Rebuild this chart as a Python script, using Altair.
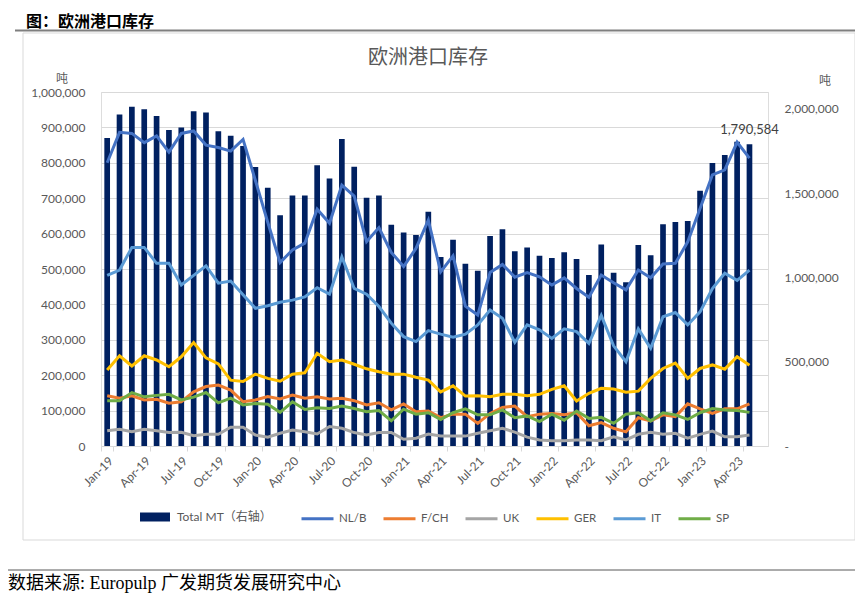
import altair as alt
import pandas as pd

months = ["Jan-19","Feb-19","Mar-19","Apr-19","May-19","Jun-19","Jul-19","Aug-19","Sep-19","Oct-19","Nov-19","Dec-19",
          "Jan-20","Feb-20","Mar-20","Apr-20","May-20","Jun-20","Jul-20","Aug-20","Sep-20","Oct-20","Nov-20","Dec-20",
          "Jan-21","Feb-21","Mar-21","Apr-21","May-21","Jun-21","Jul-21","Aug-21","Sep-21","Oct-21","Nov-21","Dec-21",
          "Jan-22","Feb-22","Mar-22","Apr-22","May-22","Jun-22","Jul-22","Aug-22","Sep-22","Oct-22","Nov-22","Dec-22",
          "Jan-23","Feb-23","Mar-23","Apr-23","May-23"]
axis_months = months + ["Jun-23"]

total = [1827000,1966000,2012000,1998000,1958000,1875000,1889000,1986000,1978000,1867000,1841000,1780000,
         1655000,1532000,1369000,1486000,1486000,1665000,1587000,1821000,1657000,1472000,1486000,1313000,
         1266000,1252000,1389000,1121000,1224000,1081000,1040000,1246000,1286000,1155000,1177000,1129000,
         1115000,1149000,1109000,1014000,1196000,1028000,972000,1192000,1131000,1315000,1329000,1335000,
         1514000,1679000,1726000,1805000,1790584]

nlb = [800,886,883,857,876,830,883,890,850,843,833,866,750,632,518,554,573,669,629,737,706,577,617,547,
       507,558,638,492,537,395,370,490,513,477,490,478,455,475,445,420,483,461,441,497,475,514,516,577,
       671,766,780,858,813]
fch = [142,135,142,130,132,121,125,153,168,172,158,125,130,140,133,144,135,139,133,135,128,116,122,102,
       119,97,99,80,90,90,64,92,109,113,83,90,92,88,94,57,66,50,40,80,71,88,83,119,105,92,105,105,119]
uk = [43,47,40,47,43,38,39,29,33,33,53,53,31,25,36,45,40,34,55,50,38,31,38,38,19,22,34,28,28,28,36,43,
      50,39,25,17,15,15,17,17,15,26,17,33,39,33,36,22,33,42,26,26,31]
ger = [215,255,226,255,243,224,252,292,249,232,186,182,203,191,183,203,207,262,238,243,231,218,210,203,
       203,194,186,153,170,141,142,139,146,146,142,146,160,170,127,149,163,161,152,155,191,219,234,191,
       219,229,217,252,228]
it_ = [482,497,561,561,516,516,455,482,509,460,466,427,389,396,406,412,421,447,429,534,445,429,394,347,
       309,295,326,316,307,316,342,384,361,293,342,328,304,331,323,290,369,283,238,331,276,365,377,342,
       379,445,488,468,497]
sp = [128,128,151,139,143,146,130,138,151,122,135,116,120,118,95,125,103,108,106,113,106,97,100,71,
      104,90,94,75,94,105,88,88,102,80,85,69,90,73,99,78,81,64,90,94,71,94,88,75,94,106,102,100,95]

series_names = ["NL/B", "F/CH", "UK", "GER", "IT", "SP"]
series_values = [nlb, fch, uk, ger, it_, sp]
series_colors = ["#4472C4", "#ED7D31", "#A5A5A5", "#FFC000", "#5B9BD5", "#70AD47"]
bar_name = "Total MT（右轴）"
bar_color = "#002060"

left_ticks = [0, 100000, 200000, 300000, 400000, 500000, 600000, 700000, 800000, 900000, 1000000]
right_ticks = [0, 500000, 1000000, 1500000, 2000000]
label_months = months[::3]

FONT = "Lato, Noto Sans CJK SC"
GREY = "#595959"

df_bar = pd.DataFrame({"month": months, "total": total, "name": bar_name})
rows = []
for name, vals in zip(series_names, series_values):
    for m, v in zip(months, vals):
        rows.append({"month": m, "series": name, "value": v * 1000})
df_lines = pd.DataFrame(rows)
df_one = pd.DataFrame({"k": [0]})

x_enc = alt.X(
    "month:N",
    sort=axis_months,
    scale=alt.Scale(domain=axis_months, paddingInner=0, paddingOuter=0),
    axis=alt.Axis(values=label_months, labelAngle=-45, labelColor=GREY, labelFont=FONT,
                  labelFontSize=12, tickBand="extent", domainColor="#D9D9D9", tickColor="#D9D9D9",
                  tickSize=5, grid=False, title=None, labelPadding=4),
)

bars = alt.Chart(df_bar).mark_bar(width={"band": 0.46}).encode(
    x=x_enc,
    y=alt.Y("total:Q", scale=alt.Scale(domain=[0, 2100000], nice=False),
            axis=alt.Axis(orient="right", values=right_ticks,
                          labelExpr="datum.value == 0 ? '-' : format(datum.value, ',')",
                          grid=False, domain=False, ticks=False, labelPadding=16,
                          labelColor=GREY, labelFont=FONT, labelFontSize=12, title=None)),
    fill=alt.Fill("name:N", scale=alt.Scale(domain=[bar_name], range=[bar_color]),
                  legend=alt.Legend(orient="none", legendX=38, legendY=409, direction="horizontal",
                                    symbolType="M-1,-0.3H1V0.3H-1Z", symbolSize=900, title=None,
                                    labelFont=FONT, labelFontSize=12, labelColor=GREY, padding=0,
                                    labelOffset=6)),
)

bar_label = alt.Chart(df_bar.tail(1)).mark_text(dy=-14, fontSize=13, font=FONT, color="#404040").encode(
    x=x_enc,
    y=alt.Y("total:Q", scale=alt.Scale(domain=[0, 2100000], nice=False), axis=None),
    text=alt.Text("total:Q", format=","),
)

lines = alt.Chart(df_lines).mark_line(strokeWidth=3).encode(
    x=x_enc,
    y=alt.Y("value:Q", scale=alt.Scale(domain=[0, 1000000], nice=False),
            axis=alt.Axis(orient="left", values=left_ticks,
                          labelExpr="format(datum.value, ',')", grid=True, gridColor="#D9D9D9",
                          domain=False, ticks=False, labelPadding=16, labelColor=GREY, labelFont=FONT,
                          labelFontSize=12, title=None)),
    stroke=alt.Stroke("series:N", sort=series_names,
                      scale=alt.Scale(domain=series_names, range=series_colors),
                      legend=alt.Legend(orient="none", legendX=199, legendY=409, direction="horizontal",
                                        symbolType="stroke", symbolSize=1024, symbolStrokeWidth=3,
                                        title=None, labelFont=FONT, labelFontSize=11.5, labelColor=GREY,
                                        columnPadding=10, labelOffset=4, padding=0)),
)

def txt(s, x, y, size, color, weight="normal", align="center", font=FONT):
    return alt.Chart(df_one).mark_text(fontSize=size, color=color, fontWeight=weight, align=align,
                                       baseline="middle", font=font).encode(
        x=alt.value(x), y=alt.value(y), text=alt.value(s))

def hline(x1, x2, y, color, w):
    return alt.Chart(df_one).mark_rule(color=color, strokeWidth=w).encode(
        x=alt.value(x1), x2=alt.value(x2), y=alt.value(y))

border = alt.Chart(df_one).mark_rect(fillOpacity=0, stroke="#D9D9D9", strokeWidth=1).encode(
    x=alt.value(-78), x2=alt.value(754), y=alt.value(-59), y2=alt.value(448))

deco = [
    border,
    hline(-86, 756, -89, "#7F7F7F", 2),
    hline(-86, 756, -61.5, "#7F7F7F", 2),
    txt("图：欧洲港口库存", -75, -70.5, 16, "#000000", weight="bold", align="left", font="Noto Sans CJK SC"),
    txt("欧洲港口库存", 327, -34, 20, GREY),
    txt("吨", -39, -13, 12, GREY),
    txt("吨", 724, -11, 12, GREY),
    hline(-93, 754, 478, "#595959", 1),
    txt("数据来源: Europulp 广发期货发展研究中心", -93, 492, 18, "#000000", align="left",
        font="Liberation Serif, Noto Sans CJK SC"),
]

chart = alt.layer(bars, bar_label, lines, *deco).resolve_scale(
    y="independent", fill="independent", stroke="independent"
).properties(
    width=667, height=354,
    autosize=alt.AutoSizeParams(type="none"),
    padding={"left": 93, "top": 84, "right": 87, "bottom": 147},
).configure_view(stroke=None).configure(background="white")

chart.save("out.html", embed_options={"renderer": "svg", "actions": False})
